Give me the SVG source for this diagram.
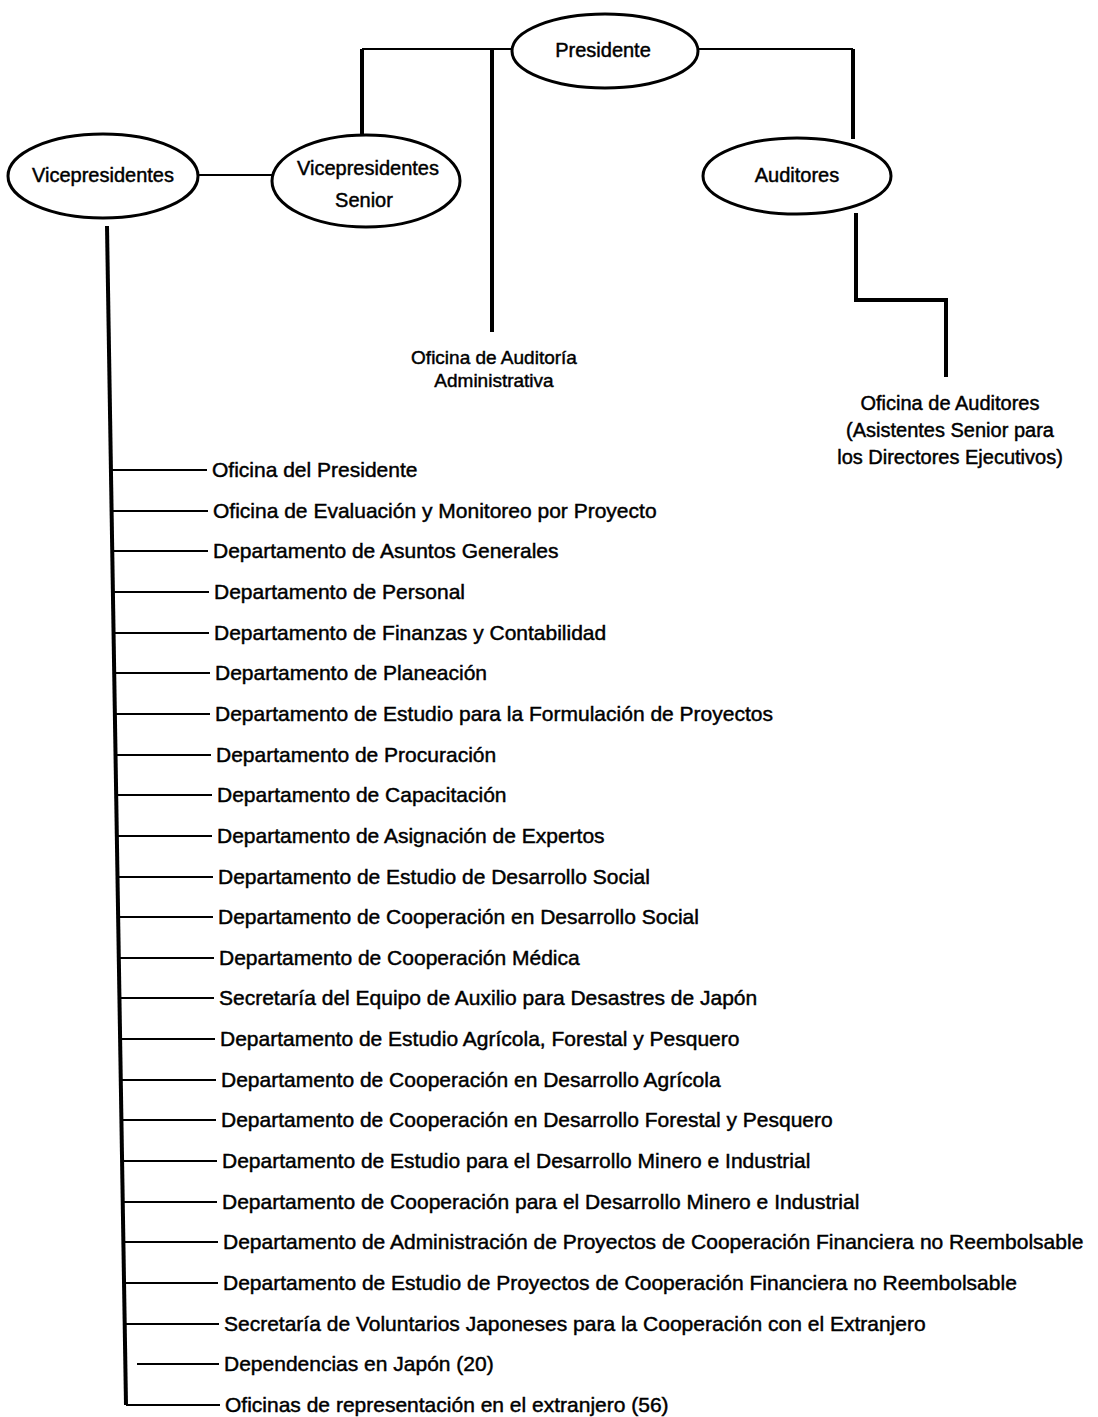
<svg xmlns="http://www.w3.org/2000/svg" width="1098" height="1417" viewBox="0 0 1098 1417">
<style>
  .bg { fill: #ffffff; }
  .node ellipse { fill: #ffffff; stroke: #000; stroke-width: 3; }
  text { font-family: "Liberation Sans", Arial, Helvetica, sans-serif; fill: #000; stroke: #000; stroke-width: 0.45; }
  .nt { font-size: 20px; text-anchor: middle; }
  .lb { font-size: 20px; text-anchor: middle; }
  .it { font-size: 21px; }
  .thick { stroke: #000; stroke-width: 4; fill: none; }
  .thin { stroke: #000; stroke-width: 2; fill: none; }
</style>
<rect class="bg" x="0" y="0" width="1098" height="1417"/>

<g id="connectors">
  <path class="thin" d="M362 49 H512 M698 49 H853 M197 175 H273"/>
  <path class="thick" d="M362 49 V135 M492 49 V332 M853 49 V139"/>
  <path class="thick" d="M856 213 V300 H946 V377"/>
  <path class="thick" d="M107 226 L126 1405"/>
  <path class="thin" d="M111 470 H207 M112 511 H208 M112 551 H208 M113 592 H209 M114 633 H209 M114 673 H210 M115 714 H210 M115 755 H211 M116 795 H212 M117 836 H212 M117 877 H213 M118 917 H213 M119 958 H214 M119 998 H214 M120 1039 H215 M121 1080 H216 M121 1120 H216 M122 1161 H217 M123 1202 H217 M123 1242 H218 M124 1283 H218 M125 1324 H219 M137 1364 H219 M126 1405 H220"/>
</g>

<g id="presidente" class="node">
  <ellipse cx="605" cy="51" rx="93" ry="37"/>
  <text class="nt" x="603" y="57">Presidente</text>
</g>
<g id="vicepresidentes" class="node">
  <ellipse cx="103" cy="176" rx="95" ry="42"/>
  <text class="nt" x="103" y="182">Vicepresidentes</text>
</g>
<g id="vicepresidentes-senior" class="node">
  <ellipse cx="366" cy="181" rx="94" ry="46"/>
  <text class="nt" x="368" y="175">Vicepresidentes</text>
  <text class="nt" x="364" y="207">Senior</text>
</g>
<g id="auditores" class="node">
  <ellipse cx="797" cy="176" rx="94" ry="38"/>
  <text class="nt" x="797" y="182">Auditores</text>
</g>
<g id="oficina-auditoria" class="node">
  <text class="lb" x="494" y="364" style="font-size:19px">Oficina de Auditoría</text>
  <text class="lb" x="494" y="387" style="font-size:19px">Administrativa</text>
</g>
<g id="oficina-auditores" class="node">
  <text class="lb" x="950" y="410">Oficina de Auditores</text>
  <text class="lb" x="950" y="437">(Asistentes Senior para</text>
  <text class="lb" x="950" y="464">los Directores Ejecutivos)</text>
</g>

<g id="item-01" class="node"><text class="it" x="212" y="477">Oficina del Presidente</text></g>
<g id="item-02" class="node"><text class="it" x="213" y="518">Oficina de Evaluación y Monitoreo por Proyecto</text></g>
<g id="item-03" class="node"><text class="it" x="213" y="558">Departamento de Asuntos Generales</text></g>
<g id="item-04" class="node"><text class="it" x="214" y="599">Departamento de Personal</text></g>
<g id="item-05" class="node"><text class="it" x="214" y="640">Departamento de Finanzas y Contabilidad</text></g>
<g id="item-06" class="node"><text class="it" x="215" y="680">Departamento de Planeación</text></g>
<g id="item-07" class="node"><text class="it" x="215" y="721">Departamento de Estudio para la Formulación de Proyectos</text></g>
<g id="item-08" class="node"><text class="it" x="216" y="762">Departamento de Procuración</text></g>
<g id="item-09" class="node"><text class="it" x="217" y="802">Departamento de Capacitación</text></g>
<g id="item-10" class="node"><text class="it" x="217" y="843">Departamento de Asignación de Expertos</text></g>
<g id="item-11" class="node"><text class="it" x="218" y="884">Departamento de Estudio de Desarrollo Social</text></g>
<g id="item-12" class="node"><text class="it" x="218" y="924">Departamento de Cooperación en Desarrollo Social</text></g>
<g id="item-13" class="node"><text class="it" x="219" y="965">Departamento de Cooperación Médica</text></g>
<g id="item-14" class="node"><text class="it" x="219" y="1005">Secretaría del Equipo de Auxilio para Desastres de Japón</text></g>
<g id="item-15" class="node"><text class="it" x="220" y="1046">Departamento de Estudio Agrícola, Forestal y Pesquero</text></g>
<g id="item-16" class="node"><text class="it" x="221" y="1087">Departamento de Cooperación en Desarrollo Agrícola</text></g>
<g id="item-17" class="node"><text class="it" x="221" y="1127">Departamento de Cooperación en Desarrollo Forestal y Pesquero</text></g>
<g id="item-18" class="node"><text class="it" x="222" y="1168">Departamento de Estudio para el Desarrollo Minero e Industrial</text></g>
<g id="item-19" class="node"><text class="it" x="222" y="1209">Departamento de Cooperación para el Desarrollo Minero e Industrial</text></g>
<g id="item-20" class="node"><text class="it" x="223" y="1249">Departamento de Administración de Proyectos de Cooperación Financiera no Reembolsable</text></g>
<g id="item-21" class="node"><text class="it" x="223" y="1290">Departamento de Estudio de Proyectos de Cooperación Financiera no Reembolsable</text></g>
<g id="item-22" class="node"><text class="it" x="224" y="1331">Secretaría de Voluntarios Japoneses para la Cooperación con el Extranjero</text></g>
<g id="item-23" class="node"><text class="it" x="224" y="1371">Dependencias en Japón (20)</text></g>
<g id="item-24" class="node"><text class="it" x="225" y="1412">Oficinas de representación en el extranjero (56)</text></g>
</svg>
